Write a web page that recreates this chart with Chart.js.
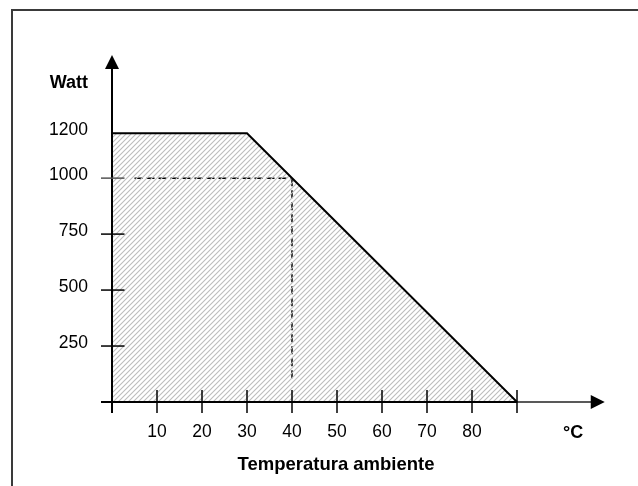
<!DOCTYPE html>
<html>
<head>
<meta charset="utf-8">
<script src="https://cdn.jsdelivr.net/npm/chart.js@4.4.1/dist/chart.umd.min.js"></script>
<style>
  html, body { margin: 0; padding: 0; background: #fff; }
  #wrap { width: 638px; height: 486px; position: relative; }
</style>
</head>
<body>
<div id="wrap"><canvas id="c" width="638" height="486"></canvas></div>
<script>
// ---- data ----
const tempC = [0, 30, 90];
const powerW = [1200, 1200, 0];
const refTemp = 40;
const refPower = 1000;
const xTickLabels = [10, 20, 30, 40, 50, 60, 70, 80];
const xTickMarks = [0, 10, 20, 30, 40, 50, 60, 70, 80, 90];
const yTickLabels = [250, 500, 750, 1000, 1200];
const yTickMarks = [250, 500, 750, 1000];
const yAxisTitle = 'Watt';
const xUnit = '°C';
const xAxisTitle = 'Temperatura ambiente';

const FONT = '"Liberation Sans", Arial, Helvetica, sans-serif';
Chart.defaults.font.family = FONT;

// hatch pattern
function makeHatch() {
  const s = 5;
  const c = document.createElement('canvas');
  c.width = s; c.height = s;
  const g = c.getContext('2d');
  g.strokeStyle = '#bcbcbc';
  g.lineWidth = 1.1;
  g.beginPath();
  g.moveTo(0, s); g.lineTo(s, 0);
  g.moveTo(-1, 1); g.lineTo(1, -1);
  g.moveTo(s - 1, s + 1); g.lineTo(s + 1, s - 1);
  g.stroke();
  return document.getElementById('c').getContext('2d').createPattern(c, 'repeat');
}

const decor = {
  id: 'decor',
  afterDatasetsDraw(chart) {
    const ctx = chart.ctx;
    const xs = chart.scales.x, ys = chart.scales.y;
    const x0 = xs.getPixelForValue(0), y0 = ys.getPixelForValue(0);
    const tipY = chart.chartArea.top;
    const tipX = xs.getPixelForValue(109.5);
    ctx.save();
    ctx.lineCap = 'butt';
    // y axis
    ctx.strokeStyle = '#000';
    ctx.lineWidth = 2;
    ctx.beginPath();
    ctx.moveTo(x0, y0 + 11);
    ctx.lineTo(x0, tipY + 12);
    ctx.stroke();
    // x axis
    const x90 = xs.getPixelForValue(90);
    ctx.beginPath();
    ctx.moveTo(x0 - 11, y0);
    ctx.lineTo(x90, y0);
    ctx.stroke();
    ctx.strokeStyle = '#222';
    ctx.lineWidth = 1.6;
    ctx.beginPath();
    ctx.moveTo(x90, y0);
    ctx.lineTo(tipX - 12, y0);
    ctx.stroke();
    // arrows
    ctx.fillStyle = '#000';
    ctx.beginPath();
    ctx.moveTo(x0, tipY);
    ctx.lineTo(x0 - 7, tipY + 14);
    ctx.lineTo(x0 + 7, tipY + 14);
    ctx.closePath();
    ctx.fill();
    ctx.beginPath();
    ctx.moveTo(tipX, y0);
    ctx.lineTo(tipX - 14, y0 - 7);
    ctx.lineTo(tipX - 14, y0 + 7);
    ctx.closePath();
    ctx.fill();
    // x tick marks
    ctx.lineWidth = 1.5;
    ctx.strokeStyle = '#000';
    xTickMarks.forEach(v => {
      const p = xs.getPixelForValue(v);
      ctx.beginPath();
      ctx.moveTo(p, y0 - 12);
      ctx.lineTo(p, y0 + 11);
      ctx.stroke();
    });
    // y tick marks
    yTickMarks.forEach(v => {
      const p = ys.getPixelForValue(v);
      ctx.strokeStyle = v === refPower ? '#555' : '#000';
      ctx.beginPath();
      ctx.moveTo(x0 - 11, p);
      ctx.lineTo(x0 + 12.5, p);
      ctx.stroke();
    });
    // texts
    ctx.fillStyle = '#000';
    ctx.textBaseline = 'alphabetic';
    ctx.font = 'bold 18px ' + FONT;
    ctx.textAlign = 'right';
    ctx.fillText(yAxisTitle, x0 - 24, 87.5);
    ctx.textAlign = 'left';
    ctx.fillText(xUnit, 563, 437.5);
    ctx.font = 'bold 18.5px ' + FONT;
    ctx.textAlign = 'center';
    ctx.fillText(xAxisTitle, 336, 470);
    // frame
    ctx.strokeStyle = '#3a3a3a';
    ctx.lineWidth = 2;
    ctx.beginPath();
    ctx.moveTo(12, 486);
    ctx.lineTo(12, 10);
    ctx.lineTo(638, 10);
    ctx.stroke();
    ctx.restore();
  }
};

const ctx = document.getElementById('c').getContext('2d');
new Chart(ctx, {
  type: 'line',
  data: {
    datasets: [
      {
        data: tempC.map((x, i) => ({ x, y: powerW[i] })),
        borderColor: '#000',
        borderWidth: 2,
        backgroundColor: makeHatch(),
        fill: 'origin',
        pointRadius: 0,
        tension: 0
      },
      {
        data: [{ x: 5, y: refPower }, { x: refTemp, y: refPower }],
        borderColor: '#000',
        borderWidth: 1.5,
        borderDash: [8, 4],
        fill: false,
        pointRadius: 0
      },
      {
        data: [{ x: refTemp, y: refPower }, { x: refTemp, y: 100 }],
        borderColor: '#000',
        borderWidth: 1.5,
        borderDash: [8, 4],
        fill: false,
        pointRadius: 0
      }
    ]
  },
  options: {
    responsive: false,
    animation: false,
    events: [],
    layout: { padding: { top: 55, right: 31, bottom: 0, left: 0 } },
    plugins: { legend: { display: false }, tooltip: { enabled: false } },
    scales: {
      x: {
        type: 'linear',
        min: 0,
        max: 110,
        grid: { display: false, drawTicks: false },
        border: { display: false },
        ticks: {
          color: '#000',
          font: { size: 17.5 },
          padding: 20,
          maxRotation: 0,
          autoSkip: false,
          callback: v => String(v)
        },
        afterBuildTicks: s => { s.ticks = xTickLabels.map(v => ({ value: v })); },
        afterFit: s => { s.height = 84; }
      },
      y: {
        type: 'linear',
        min: 0,
        max: 1550,
        grid: { display: false, drawTicks: false },
        border: { display: false },
        ticks: {
          color: '#000',
          font: { size: 17.5 },
          padding: 24,
          labelOffset: -3,
          autoSkip: false,
          callback: v => String(v)
        },
        afterBuildTicks: s => { s.ticks = yTickLabels.map(v => ({ value: v })); },
        afterFit: s => { s.width = 112; }
      }
    }
  },
  plugins: [decor]
});
</script>
</body>
</html>
